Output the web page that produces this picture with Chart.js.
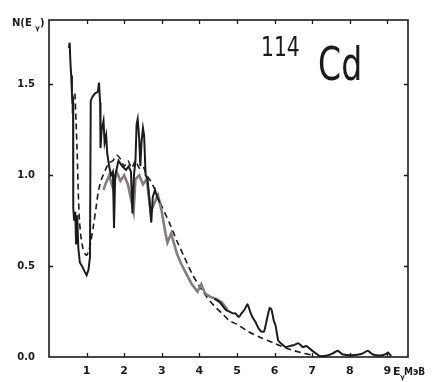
<!DOCTYPE html>
<html>
<head>
<meta charset="utf-8">
<script src="https://cdn.jsdelivr.net/npm/chart.js@4.4.1/dist/chart.umd.min.js"></script>
<style>
  html, body { margin:0; padding:0; background:#fff; }
  #wrap { width:432px; height:382px; }
</style>
</head>
<body>
<div id="wrap"><canvas id="spec" width="432" height="382"></canvas></div>
<script>
'use strict';

// ── data ───────────────────────────────────────────
const xTicks = [1, 2, 3, 4, 5, 6, 7, 8, 9];
const yTicks = [0, 0.5, 1.0, 1.5];
const yTickLabels = ['0.0', '0.5', '1.0', '1.5'];

// experiment, low-energy part (black)
const expLoE = [0.53, 0.55, 0.57, 0.59, 0.61, 0.62, 0.63, 0.64, 0.645, 0.67, 0.70, 0.72, 0.75, 0.78, 0.82, 0.88, 0.95, 1.0, 1.05, 1.09,
  1.11, 1.15, 1.22, 1.30, 1.33, 1.36, 1.37, 1.40, 1.45, 1.48, 1.52, 1.55, 1.60, 1.65, 1.70, 1.73, 1.76, 1.85, 1.95, 2.05,
  2.12, 2.18, 2.22, 2.26, 2.30, 2.33, 2.36, 2.40, 2.43, 2.46, 2.50, 2.53, 2.57, 2.62, 2.68, 2.72, 2.76, 2.82, 2.88, 2.95];
const expLoN = [1.70, 1.73, 1.62, 1.55, 1.45, 1.40, 1.39, 1.40, 0.82, 0.75, 0.80, 0.62, 0.78, 0.60, 0.52, 0.50, 0.47, 0.45, 0.48, 0.55,
  1.41, 1.43, 1.45, 1.46, 1.51, 1.40, 1.15, 1.25, 1.30, 1.18, 1.22, 1.12, 1.05, 1.00, 1.02, 0.71, 1.00, 1.08, 1.05, 1.03,
  1.05, 1.02, 0.79, 1.00, 1.08, 1.28, 1.31, 1.20, 1.05, 1.18, 1.26, 1.22, 1.00, 0.98, 0.85, 0.74, 0.88, 0.92, 0.88, 0.85];

// experiment, high-energy part (black)
const expHiE = [4.40, 4.55, 4.70, 4.80, 4.90, 4.96, 5.05, 5.12, 5.20, 5.28, 5.35, 5.41, 5.50, 5.57, 5.65, 5.72, 5.80, 5.87, 5.92, 5.98,
  6.03, 6.10, 6.20, 6.29, 6.40, 6.50, 6.64, 6.75, 6.85, 7.00, 7.10, 7.20, 7.40, 7.55, 7.68, 7.80, 8.00, 8.20, 8.35, 8.48,
  8.60, 8.80, 8.95, 9.02, 9.10];
const expHiN = [0.32, 0.30, 0.26, 0.25, 0.24, 0.24, 0.22, 0.24, 0.26, 0.29, 0.25, 0.22, 0.19, 0.16, 0.14, 0.14, 0.21, 0.27, 0.26, 0.20,
  0.17, 0.09, 0.07, 0.055, 0.06, 0.065, 0.075, 0.055, 0.06, 0.035, 0.02, 0.005, 0.008, 0.02, 0.035, 0.015, 0.01, 0.012, 0.02, 0.035,
  0.015, 0.008, 0.015, 0.025, 0.005];

// experiment, middle part (grey ink)
const greyE = [1.45, 1.50, 1.60, 1.70, 1.80, 1.90, 2.00, 2.10, 2.20, 2.25, 2.30, 2.40, 2.50, 2.60, 2.70, 2.75, 2.85, 2.90, 3.00, 3.10,
  3.15, 3.25, 3.40, 3.50, 3.60, 3.70, 3.80, 3.95, 4.05, 4.15, 4.30, 4.45, 4.60, 4.75];
const greyN = [0.92, 0.95, 1.00, 0.93, 1.02, 0.97, 1.00, 0.95, 0.85, 0.80, 0.98, 1.00, 0.95, 0.98, 0.80, 0.82, 0.87, 0.89, 0.80, 0.68,
  0.63, 0.68, 0.57, 0.52, 0.48, 0.44, 0.40, 0.36, 0.40, 0.35, 0.33, 0.32, 0.30, 0.26];

// calculation (dashed)
const theoE = [0.69, 0.72, 0.75, 0.78, 0.81, 0.85, 0.90, 0.95, 1.00, 1.05, 1.10, 1.18, 1.25, 1.32, 1.40, 1.50, 1.60, 1.70, 1.80, 1.90,
  2.00, 2.10, 2.20, 2.30, 2.40, 2.50, 2.60, 2.70, 2.80, 2.90, 3.00, 3.20, 3.40, 3.60, 3.80, 4.00, 4.20, 4.40, 4.60, 4.80,
  5.00, 5.30, 5.60, 6.00, 6.30, 6.60, 7.00];
const theoN = [1.45, 1.30, 1.12, 0.90, 0.75, 0.66, 0.60, 0.57, 0.56, 0.58, 0.62, 0.72, 0.82, 0.92, 0.98, 1.03, 1.07, 1.08, 1.11, 1.09,
  1.05, 1.08, 1.04, 1.08, 1.04, 1.05, 1.00, 0.97, 0.93, 0.88, 0.83, 0.74, 0.64, 0.55, 0.46, 0.39, 0.33, 0.28, 0.24, 0.20,
  0.18, 0.14, 0.11, 0.075, 0.05, 0.03, 0.01];

const pts = (xs, ys) => xs.map((x, i) => ({ x, y: ys[i] }));

const INK = '#1b1b1b';
const FONT = 'DejaVu Sans';

// ── frame, inward ticks and hand-lettered labels ───
const framePlugin = {
  id: 'frame',
  afterDatasetsDraw(chart) {
    const { ctx, chartArea: a, scales } = chart;
    ctx.save();
    ctx.strokeStyle = INK;
    ctx.lineWidth = 1.6;
    ctx.strokeRect(a.left, a.top, a.right - a.left, a.bottom - a.top);
    ctx.lineWidth = 1.3;
    ctx.beginPath();
    xTicks.forEach(v => {
      const px = Math.round(scales.x.getPixelForValue(v)) + 0.5;
      ctx.moveTo(px, a.bottom); ctx.lineTo(px, a.bottom - 4);
      ctx.moveTo(px, a.top); ctx.lineTo(px, a.top + 4);
    });
    yTicks.slice(1).forEach(v => {
      const py = Math.round(scales.y.getPixelForValue(v)) + 0.5;
      ctx.moveTo(a.left, py); ctx.lineTo(a.left + 4, py);
      ctx.moveTo(a.right, py); ctx.lineTo(a.right - 4, py);
    });
    ctx.stroke();

    ctx.fillStyle = INK;
    ctx.textBaseline = 'alphabetic';
    ctx.textAlign = 'left';
    // y title  N(Eγ)
    ctx.font = `bold 10px ${FONT}`;
    ctx.fillText('N(E', 12, 26);
    ctx.font = `bold 7px ${FONT}`;
    ctx.fillText('γ', 35, 30);
    ctx.font = `bold 10px ${FONT}`;
    ctx.fillText(')', 40, 26);

    // x title  Eγ МэВ
    ctx.font = `bold 11px ${FONT}`;
    ctx.fillText('E', 393, 375);
    ctx.font = `bold 7px ${FONT}`;
    ctx.fillText('γ', 400, 379);
    ctx.save();
    ctx.translate(404, 375);
    ctx.scale(0.9, 1);
    ctx.font = `bold 10px ${FONT}`;
    ctx.fillText('МэВ', 0, 0);
    ctx.restore();

    // isotope  114Cd
    ctx.save();
    ctx.translate(261, 56);
    ctx.scale(0.78, 1);
    ctx.font = `26px ${FONT}`;
    ctx.fillText('114', 0, 0);
    ctx.restore();
    ctx.save();
    ctx.translate(318, 80);
    ctx.scale(0.72, 1);
    ctx.font = `46px ${FONT}`;
    ctx.fillText('Cd', 0, 0);
    ctx.restore();
    ctx.restore();
  }
};

const ctx = document.getElementById('spec');
new Chart(ctx, {
  type: 'scatter',
  data: {
    datasets: [
      { label: 'calc', data: pts(theoE, theoN), showLine: true, borderColor: INK, borderWidth: 1.6, borderDash: [6, 4], pointRadius: 0, tension: 0.2, order: 3 },
      { label: 'exp grey', data: pts(greyE, greyN), showLine: true, borderColor: '#857b80', borderWidth: 2.6, pointRadius: 0, tension: 0, order: 2 },
      { label: 'exp low', data: pts(expLoE, expLoN), showLine: true, borderColor: INK, borderWidth: 2, pointRadius: 0, tension: 0, order: 1 },
      { label: 'exp high', data: pts(expHiE, expHiN), showLine: true, borderColor: INK, borderWidth: 2, pointRadius: 0, tension: 0.2, order: 1 }
    ]
  },
  options: {
    responsive: false,
    animation: false,
    devicePixelRatio: 1,
    layout: { padding: { top: 12, right: 24, left: 0, bottom: 0 } },
    plugins: { legend: { display: false }, tooltip: { enabled: false } },
    scales: {
      x: {
        type: 'linear', min: 0, max: 9.55,
        grid: { display: false, drawTicks: false }, border: { display: false },
        afterBuildTicks: s => { s.ticks = xTicks.map(v => ({ value: v })); },
        afterFit: s => { s.height = 25; },
        ticks: { color: INK, padding: 8, font: { family: FONT, size: 11, weight: 'bold' }, maxRotation: 0, callback: v => String(v) }
      },
      y: {
        type: 'linear', min: 0, max: 1.855,
        grid: { display: false, drawTicks: false }, border: { display: false },
        afterBuildTicks: s => { s.ticks = yTicks.map(v => ({ value: v })); },
        afterFit: s => { s.width = 49; },
        ticks: { color: INK, padding: 14, font: { family: FONT, size: 10, weight: 'bold' },
          callback: v => yTickLabels[yTicks.indexOf(v)] }
      }
    }
  },
  plugins: [framePlugin]
});
</script>
</body>
</html>
